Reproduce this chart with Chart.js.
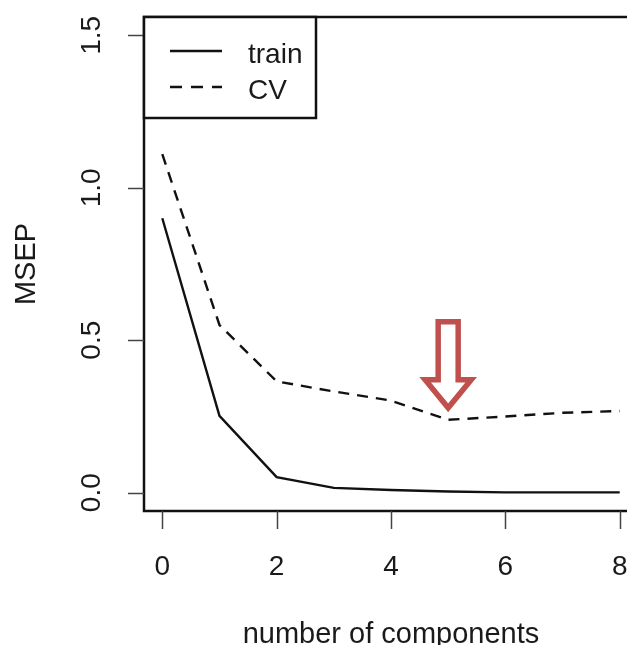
<!DOCTYPE html>
<html>
<head>
<meta charset="utf-8">
<script src="https://cdn.jsdelivr.net/npm/chart.js@4.4.1/dist/chart.umd.min.js"></script>
<style>
  html, body { margin: 0; padding: 0; background: #fff; overflow: hidden; }
  #wrap { width: 660px; height: 645px; }
</style>
</head>
<body>
<div id="wrap"><canvas id="msep" width="660" height="645"></canvas></div>
<script>
const components = [0, 1, 2, 3, 4, 5, 6, 7, 8];
const trainMSEP = [0.900, 0.252, 0.051, 0.016, 0.009, 0.004, 0.001, 0.001, 0.001];
const cvMSEP = [1.110, 0.550, 0.365, 0.332, 0.302, 0.239, 0.250, 0.262, 0.268];
const xTicks = [0, 2, 4, 6, 8];
const yTicks = [0, 0.5, 1.0, 1.5];
const yTickLabels = ["0.0", "0.5", "1.0", "1.5"];
const xTitle = "number of components";
const yTitle = "MSEP";
const bestComponent = 5;

const FONT = '28px "Liberation Sans", Arial, sans-serif';
const TITLE_FONT = '29px "Liberation Sans", Arial, sans-serif';
const INK = "#1a1a1a";

// base-R look: box, outside ticks, rotated y labels, boxed legend, red hint arrow
const rPlot = {
  id: "rPlot",
  afterDraw(chart) {
    const ctx = chart.ctx;
    const area = chart.chartArea;
    const xs = chart.scales.x;
    const ys = chart.scales.y;
    ctx.save();

    // plot box
    ctx.strokeStyle = "#111";
    ctx.lineWidth = 2.5;
    ctx.strokeRect(area.left, area.top, area.right - area.left, area.bottom - area.top);

    // tick marks
    ctx.strokeStyle = "#444";
    ctx.lineWidth = 1.5;
    ctx.beginPath();
    xTicks.forEach(v => {
      const px = Math.round(xs.getPixelForValue(v)) + 0.5;
      ctx.moveTo(px, area.bottom);
      ctx.lineTo(px, area.bottom + 18);
    });
    yTicks.forEach(v => {
      const py = Math.round(ys.getPixelForValue(v)) + 0.5;
      ctx.moveTo(area.left, py);
      ctx.lineTo(area.left - 16, py);
    });
    ctx.stroke();

    // tick labels
    ctx.fillStyle = INK;
    ctx.font = FONT;
    ctx.textAlign = "center";
    ctx.textBaseline = "alphabetic";
    xTicks.forEach(v => ctx.fillText(String(v), xs.getPixelForValue(v), 575));
    yTicks.forEach((v, i) => {
      ctx.save();
      ctx.translate(100, ys.getPixelForValue(v));
      ctx.rotate(-Math.PI / 2);
      ctx.fillText(yTickLabels[i], 0, 0);
      ctx.restore();
    });

    // axis titles
    ctx.font = TITLE_FONT;
    ctx.fillText(xTitle, (area.left + area.right) / 2, 643);
    ctx.save();
    ctx.translate(35, (area.top + area.bottom) / 2);
    ctx.rotate(-Math.PI / 2);
    ctx.fillText(yTitle, 0, 0);
    ctx.restore();

    // legend
    ctx.font = FONT;
    const lx = area.left, ly = area.top;
    ctx.fillStyle = "#fff";
    ctx.fillRect(lx, ly, 172, 101);
    ctx.strokeStyle = "#111";
    ctx.lineWidth = 2.5;
    ctx.strokeRect(lx, ly, 172, 101);
    chart.data.datasets.forEach((ds, i) => {
      const y = ly + 34 + i * 36;
      ctx.strokeStyle = ds.borderColor;
      ctx.lineWidth = 2.5;
      ctx.setLineDash(i === 0 ? [] : [12, 9]);
      ctx.beginPath();
      ctx.moveTo(lx + 26, y);
      ctx.lineTo(lx + 78, y);
      ctx.stroke();
      ctx.setLineDash([]);
      ctx.fillStyle = INK;
      ctx.textAlign = "left";
      ctx.fillText(ds.label, lx + 104, y + 12);
    });

    // hollow red arrow pointing at the CV minimum
    const ax = xs.getPixelForValue(bestComponent);
    const tipY = ys.getPixelForValue(cvMSEP[components.indexOf(bestComponent)]) - 12;
    ctx.beginPath();
    ctx.moveTo(ax - 10, tipY - 86);
    ctx.lineTo(ax + 10, tipY - 86);
    ctx.lineTo(ax + 10, tipY - 28);
    ctx.lineTo(ax + 23, tipY - 28);
    ctx.lineTo(ax, tipY);
    ctx.lineTo(ax - 23, tipY - 28);
    ctx.lineTo(ax - 10, tipY - 28);
    ctx.closePath();
    ctx.fillStyle = "#fff";
    ctx.fill();
    ctx.strokeStyle = "#C0504D";
    ctx.lineWidth = 5.5;
    ctx.lineJoin = "miter";
    ctx.stroke();

    ctx.restore();
  }
};

const toPoints = vals => components.map((c, i) => ({ x: c, y: vals[i] }));

new Chart(document.getElementById("msep"), {
  type: "line",
  data: {
    datasets: [
      {
        label: "train",
        data: toPoints(trainMSEP),
        borderColor: "#111",
        borderWidth: 2.4,
        pointRadius: 0,
        tension: 0,
        fill: false,
      },
      {
        label: "CV",
        data: toPoints(cvMSEP),
        borderColor: "#111",
        borderWidth: 2.4,
        borderDash: [11, 8],
        pointRadius: 0,
        tension: 0,
        fill: false,
      },
    ],
  },
  options: {
    responsive: false,
    animation: false,
    events: [],
    layout: { padding: { left: 144, top: 17, right: 22, bottom: 134 } },
    scales: {
      x: { type: "linear", min: -0.32, max: 8.32, display: false },
      y: { type: "linear", min: -0.06, max: 1.56, display: false },
    },
    plugins: { legend: { display: false }, tooltip: { enabled: false } },
  },
  plugins: [rPlot],
});
</script>
</body>
</html>
